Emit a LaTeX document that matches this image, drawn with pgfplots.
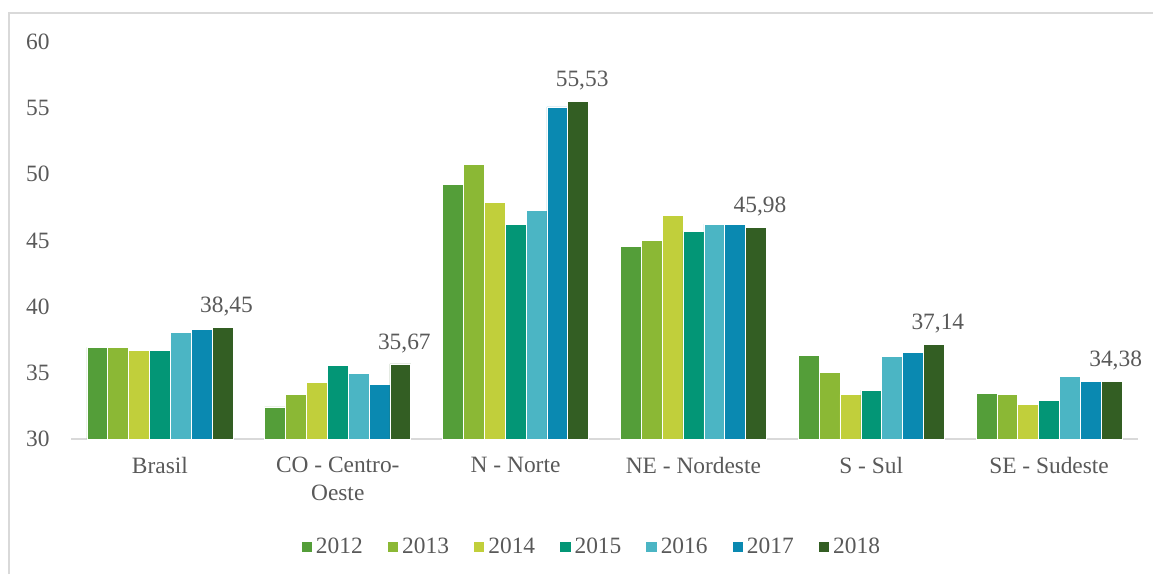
\documentclass[border=0pt]{standalone}
\usepackage{fontspec}
\setmainfont{Liberation Serif}
\usepackage{pgfplots}
\pgfplotsset{compat=1.18}

\definecolor{ctext}{HTML}{595959}
\definecolor{cframe}{HTML}{D9D9D9}
\definecolor{ca}{RGB}{84,158,57}
\definecolor{cb}{RGB}{139,184,53}
\definecolor{cc}{RGB}{193,207,59}
\definecolor{cd}{RGB}{3,150,118}
\definecolor{ce}{RGB}{75,181,196}
\definecolor{cf}{RGB}{10,137,177}
\definecolor{cg}{RGB}{51,94,35}

\newcommand{\chartfont}{\fontsize{11.7pt}{14pt}\selectfont}

\begin{document}
\begin{tikzpicture}[x=1pt,y=1pt]
\useasboundingbox (0,0) rectangle (576.5,287);
% outer chart frame (only left and top visible)
\draw[cframe,line width=0.8pt] (4.5,0) -- (4.5,280.5) -- (576.5,280.5);
\begin{axis}[
  at={(35.5pt,67.5pt)}, anchor=south west,
  scale only axis,
  width=533.5pt, height=198.5pt,
  xmin=-0.5, xmax=5.5,
  ymin=30, ymax=60,
  ybar=0pt, bar width=10.43pt,
  axis lines*=left,
  axis y line=none,
  x axis line style={cframe,line width=1pt},
  major tick length=0pt,
  xtick={0,...,5},
  xticklabels={Brasil,{CO - Centro-\\Oeste},N - Norte,NE - Nordeste,S - Sul,SE - Sudeste},
  xticklabel style={align=center,font=\chartfont,text=ctext,inner sep=0pt,yshift=-9pt},
  /pgf/number format/assume math mode=true,
  enlargelimits=false,
  clip=false,
  legend columns=7,
  legend style={at={(0.489,-0.272)},anchor=center,draw=none,fill=none,
    font=\chartfont,text=ctext,inner sep=0pt,
    /tikz/every even column/.append style={column sep=10.5pt}},
  legend image code/.code={\fill[#1,draw=none] (0pt,-2.7pt) rectangle (5.2pt,2.7pt);},
  every axis plot/.append style={draw=white,line width=0.3pt},
]
\addplot[fill=ca] coordinates {(0,36.93) (1,32.42) (2,49.26) (3,44.58) (4,36.34) (5,33.45)};
\addplot[fill=cb] coordinates {(0,36.92) (1,33.40) (2,50.77) (3,45.03) (4,35.06) (5,33.35)};
\addplot[fill=cc] coordinates {(0,36.67) (1,34.25) (2,47.88) (3,46.92) (4,33.37) (5,32.62)};
\addplot[fill=cd] coordinates {(0,36.70) (1,35.54) (2,46.24) (3,45.71) (4,33.70) (5,32.92)};
\addplot[fill=ce] coordinates {(0,38.06) (1,34.98) (2,47.30) (3,46.24) (4,36.27) (5,34.73)};
\addplot[fill=cf] coordinates {(0,38.28) (1,34.15) (2,55.10) (3,46.24) (4,36.55) (5,34.36)};
\addplot[fill=cg,
  nodes near coords={\pgfmathprintnumber[fixed,fixed zerofill,precision=2,use comma,assume math mode=true]{\pgfplotspointmeta}},
  every node near coord/.append style={font=\chartfont,text=ctext,anchor=south,yshift=2pt,xshift=2pt}]
  coordinates {(0,38.45) (1,35.67) (2,55.53) (3,45.98) (4,37.14) (5,34.38)};
\legend{2012,2013,2014,2015,2016,2017,2018}
\end{axis}
% y axis tick labels, set in the text font
\foreach \v in {30,35,...,60}{
  \node[anchor=east,inner sep=0pt,font=\chartfont,text=ctext]
    at (25,{67.5+(\v-30)*198.5/30}) {\v};
}
\end{tikzpicture}
\end{document}
